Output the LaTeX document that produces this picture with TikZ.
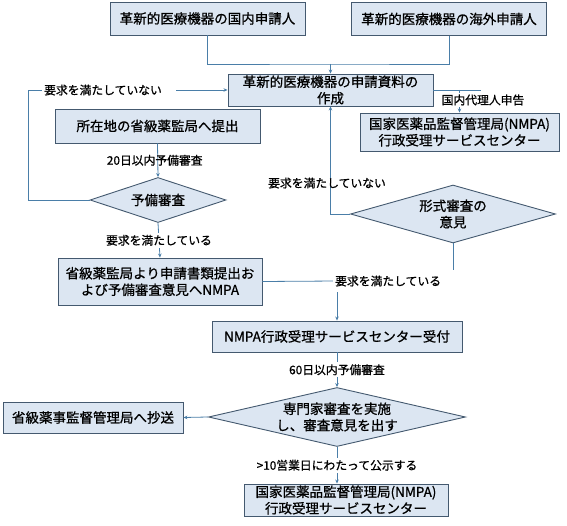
\documentclass[tikz,border=0pt]{standalone}
\usepackage{fontspec}
\setmainfont{Noto Sans CJK JP}[FakeBold=0.8,AutoFakeBold=0.8]
\usepackage{tikz}
\usetikzlibrary{arrows.meta,positioning,shapes.geometric}

\definecolor{boxfill}{HTML}{DCE6F2}
\definecolor{boxedge}{HTML}{44596F}
\definecolor{lnblue}{HTML}{4A7EA8}

\begin{document}
\begin{tikzpicture}[
  x=1pt, y=-1pt,
  >=Stealth,
  box/.style={draw=boxedge, line width=0.9pt, fill=boxfill,
              align=center, inner sep=0pt,
              font=\fontsize{13.5}{16.5}\selectfont},
  dia/.style={draw=boxedge, line width=0.9pt, fill=boxfill,
              diamond, inner sep=0pt},
  dtxt/.style={align=center, inner sep=0pt,
               font=\fontsize{13.5}{16.5}\selectfont},
  ln/.style={draw=lnblue, line width=0.8pt},
  arr/.style={ln, -{Stealth[length=4pt,width=3.5pt]}},
  lbl/.style={fill=white, inner sep=2pt, font=\fontsize{11.8}{14}\selectfont},
]
  \useasboundingbox (0,0) rectangle (567,526);

  %% applicants — top row
  \node[box, minimum width=195pt, minimum height=33pt] (appd) at (207.5,18.5)
    {革新的医療機器の国内申請人};
  \node[box, minimum width=195pt, minimum height=33pt] (appf) at (449,19)
    {革新的医療機器の海外申請人};

  %% preparation of documents
  \node[box, minimum width=205pt, minimum height=32pt] (prep) at (330.5,90)
    {革新的医療機器の申請資料の\\作成};

  %% provincial route — left
  \node[box, minimum width=205pt, minimum height=34pt] (prov) at (157.5,126)
    {所在地の省級薬監局へ提出};
  \node[dia, minimum width=136pt, minimum height=45pt] (pre) at (158,200) {};
  \node[dtxt] (pret) at (pre) {予備審査};
  \node[box, minimum width=204pt, minimum height=47pt] (fwd) at (160,281.5)
    {省級薬監局より申請書類提出お\\よび予備審査意見へNMPA};

  %% NMPA route — right
  \node[box, minimum width=199pt, minimum height=38pt] (nmpa) at (459.5,132)
    {国家医薬品監督管理局(NMPA)\\行政受理サービスセンター};
  \node[dia, minimum width=205pt, minimum height=58pt] (form) at (453,214) {};
  \node[dtxt] (formt) at (form) {形式審査の\\意見};

  %% acceptance and expert review — centre
  \node[box, minimum width=250pt, minimum height=31pt] (recv) at (337,336.5)
    {NMPA行政受理サービスセンター受付};
  \node[dia, minimum width=257pt, minimum height=59pt] (exp) at (337,417) {};
  \node[dtxt] (expt) at (exp) {専門家審査を実施\\し、審査意見を出す};
  \node[box, minimum width=180pt, minimum height=31pt] (copy) at (93,417.5)
    {省級薬事監督管理局へ抄送};
  \node[box, minimum width=204pt, minimum height=32pt] (pub) at (346,500)
    {国家医薬品監督管理局(NMPA)\\行政受理サービスセンター};

  %% junction points
  \coordinate (mrg) at (330.5,64);
  \coordinate (lp)  at (28,90);
  \coordinate (jn)  at (337,281);
  \coordinate (rend) at (481,90);

  %% connectors
  \draw[ln]  (appd.south) |- (mrg) -| (appf.south);
  \draw[arr] (mrg) -- (prep.north);
  \draw[arr] (pre.west) -| (lp) -- (prep.west);
  \node[lbl, anchor=west, text width=130pt, align=left] (nok1) at (42,90)
    {要求を満たしていない};
  \draw[arr] (prov.south) -- node[lbl, fill=none, xshift=-3pt] (d20) {20日以内予備審査} (pre.north);
  \draw[arr] (pre.south) -- node[lbl] (ok1) {要求を満たしている} (fwd.north);

  \draw[ln]  (prep.east) -- (rend);
  \draw[arr] (prep.east -| nmpa.north) -- (nmpa.north);
  \node[lbl] (agent) at (483,100) {国内代理人申告};

  \draw[arr] (form.west) -| (prep.south);
  \node[lbl, fill=none, anchor=west] (nok2) at (266,183) {要求を満たしていない};

  \draw[ln]  (fwd.east) -- (jn);
  \draw[ln]  (form.south) |- (jn);
  \draw[arr] (jn) -- (recv.north);
  \node[lbl, anchor=west, text width=122pt, align=left, minimum height=22pt] (ok2) at (333,281)
    {要求を満たしている};

  \draw[arr] (recv.south) -- node[lbl] (d60) {60日以内予備審査} (exp.north);
  \draw[arr] (exp.west) -- (copy.east);
  \draw[arr] (exp.south) -- node[lbl] (d10) {>10営業日にわたって公示する} (exp.south |- pub.north);
\end{tikzpicture}
\end{document}
